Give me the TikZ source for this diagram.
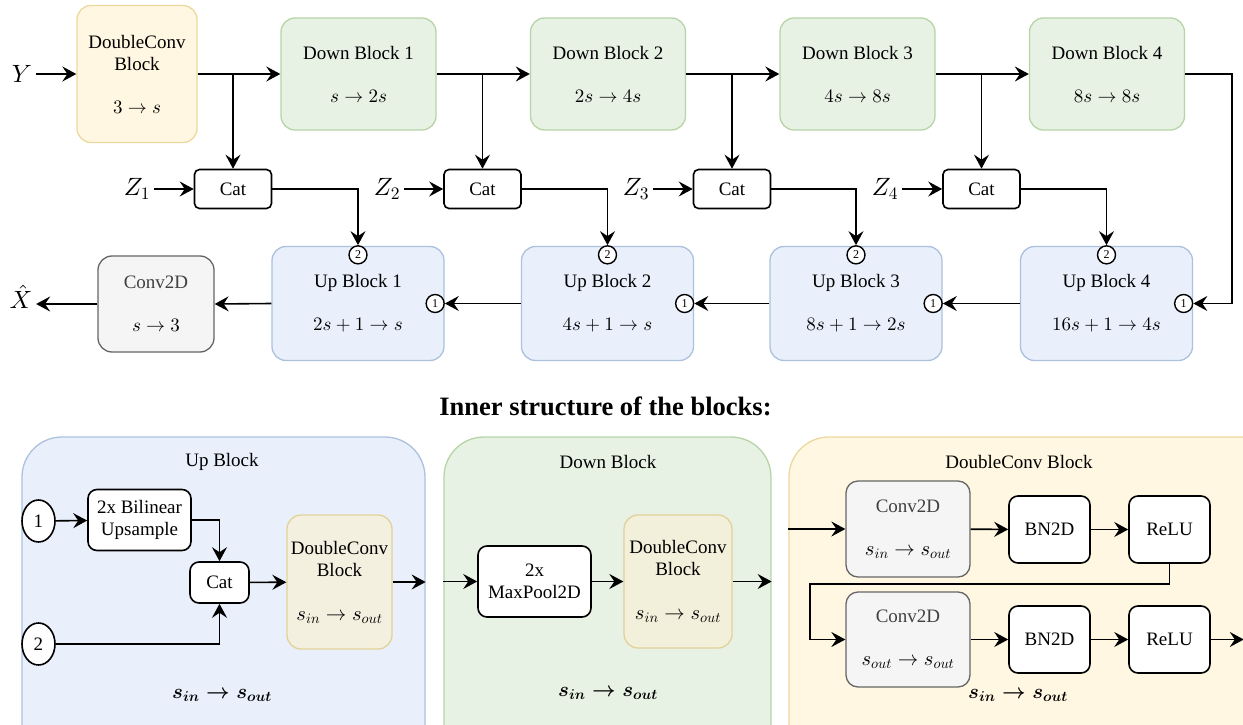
\documentclass[tikz,border=0pt]{standalone}
\usepackage[no-math]{fontspec}
\setmainfont{LiberationSerif}[Extension=.ttf,UprightFont=*-Regular,BoldFont=*-Bold,ItalicFont=*-Italic,BoldItalicFont=*-BoldItalic]
\usepackage{amsmath}
\usetikzlibrary{arrows.meta,shapes.geometric}

% scalable math fonts
\DeclareFontShape{OT1}{cmr}{m}{n}{<->cmr10}{}
\DeclareFontShape{OT1}{cmr}{bx}{n}{<->cmbx10}{}
\DeclareFontShape{OML}{cmm}{m}{it}{<->cmmi10}{}
\DeclareFontShape{OML}{cmm}{b}{it}{<->cmmib10}{}
\DeclareFontShape{OMS}{cmsy}{m}{n}{<->cmsy10}{}
\DeclareFontShape{OMS}{cmsy}{b}{n}{<->cmbsy10}{}
\DeclareFontShape{OMX}{cmex}{m}{n}{<->cmex10}{}

\definecolor{yfill}{RGB}{255,247,226}
\definecolor{yline}{RGB}{236,216,158}
\definecolor{gfill}{RGB}{231,241,228}
\definecolor{gline}{RGB}{182,213,167}
\definecolor{bfill}{RGB}{233,240,251}
\definecolor{bline}{RGB}{172,193,222}
\definecolor{kfill}{RGB}{245,245,245}
\definecolor{kline}{RGB}{102,102,102}
\definecolor{tfill}{RGB}{244,240,224}
\definecolor{tline}{RGB}{226,210,152}
\definecolor{sfill}{RGB}{242,240,218}

\newcommand{\sizes}[1]{{\fontsize{20.5}{22}\selectfont$#1$}}

\begin{document}
\begin{tikzpicture}[x=1pt,y=-1pt,
    every node/.style={font=\fontsize{19}{22}\selectfont},
    arr/.style={line width=1.6pt,arrows={-Stealth[length=14pt,width=15pt,inset=5pt]}},
    blk/.style={draw,rounded corners=14pt,line width=1.3pt,align=center,inner sep=0pt},
    dcblk/.style={blk,fill=yfill,draw=yline},
    dnblk/.style={blk,fill=gfill,draw=gline,minimum width=155,minimum height=112},
    upblk/.style={blk,fill=bfill,draw=bline,minimum width=172,minimum height=114},
    cvblk/.style={blk,fill=kfill,draw=kline,text=black!75},
    opbox/.style={draw,fill=white,rounded corners=9pt,line width=1.6pt,align=center,inner sep=0pt},
    catbox/.style={opbox,rounded corners=5pt,minimum width=77,minimum height=39},
    port/.style={draw,fill=white,circle,line width=1.4pt,inner sep=0pt,minimum size=18,font=\fontsize{12}{12}\selectfont},
    bigport/.style={draw,fill=white,ellipse,line width=1.6pt,inner sep=0pt,minimum width=33,minimum height=42},
    panel/.style={draw,rounded corners=40pt,line width=1.3pt},
    lbl/.style={font=\fontsize{25}{26}\selectfont,inner sep=0.36em}]

    \useasboundingbox (0,0) rectangle (1243,725);
    \clip (0,0) rectangle (1243,725);

    % encoder
    \node[lbl] (y) at (22,74) {$Y$};
    \node[dcblk,minimum width=120,minimum height=137] (dc) at (137,74) {DoubleConv\\Block\\[21pt]$3\to s$};
    \node[dnblk] (db1) at (358.5,74) {Down Block 1\\[21pt]$s\to 2s$};
    \node[dnblk] (db2) at (608,74) {Down Block 2\\[21pt]$2s\to 4s$};
    \node[dnblk] (db3) at (857.5,74) {Down Block 3\\[21pt]$4s\to 8s$};
    \node[dnblk] (db4) at (1107,74) {Down Block 4\\[21pt]$8s\to 8s$};

    % skip connections
    \node[catbox] (cat1) at (233,189) {Cat};
    \node[catbox] (cat2) at (482.5,189) {Cat};
    \node[catbox] (cat3) at (732,189) {Cat};
    \node[catbox] (cat4) at (981.5,189) {Cat};
    \node[lbl] (z1) at (137,189) {$Z_1$};
    \node[lbl] (z2) at (387,189) {$Z_2$};
    \node[lbl] (z3) at (636,189) {$Z_3$};
    \node[lbl] (z4) at (885,189) {$Z_4$};

    % decoder
    \node[upblk] (ub1) at (358,303.5) {Up Block 1\\[21pt]$2s+1\to s$};
    \node[upblk] (ub2) at (607.5,303.5) {Up Block 2\\[21pt]$4s+1\to s$};
    \node[upblk] (ub3) at (856,303.5) {Up Block 3\\[21pt]$8s+1\to 2s$};
    \node[upblk] (ub4) at (1106.5,303.5) {Up Block 4\\[21pt]$16s+1\to 4s$};
    \node[port] (ub1a) at ([xshift=-9.5pt]ub1.east) {1};
    \node[port] (ub2a) at ([xshift=-9.5pt]ub2.east) {1};
    \node[port] (ub3a) at ([xshift=-9.5pt]ub3.east) {1};
    \node[port] (ub4a) at ([xshift=-9.5pt]ub4.east) {1};
    \node[port] (ub1b) at ([yshift=-9pt]ub1.north) {2};
    \node[port] (ub2b) at ([yshift=-9pt]ub2.north) {2};
    \node[port] (ub3b) at ([yshift=-9pt]ub3.north) {2};
    \node[port] (ub4b) at ([yshift=-9pt]ub4.north) {2};
    \node[cvblk,minimum width=116,minimum height=96] (conv) at (156,304) {Conv2D\\[21pt]\textcolor{black}{$s\to 3$}};
    \node[lbl] (xhat) at (21,297) {$\hat{X}$};

    \draw[arr] (y.east) -- (dc.west);
    \draw[arr] (dc.east) -- (db1.west);
    \draw[arr] (db1.east) -- (db2.west);
    \draw[arr] (db2.east) -- (db3.west);
    \draw[arr] (db3.east) -- (db4.west);
    \draw[arr] (cat1 |- dc.east) -- (cat1.north);
    \draw[arr] (cat2 |- db1.east) -- (cat2.north);
    \draw[arr] (cat3 |- db2.east) -- (cat3.north);
    \draw[arr] (cat4 |- db3.east) -- (cat4.north);
    \draw[arr] (z1) -- (cat1);
    \draw[arr] (z2) -- (cat2);
    \draw[arr] (z3) -- (cat3);
    \draw[arr] (z4) -- (cat4);
    \draw[arr] (cat1.east) -| (ub1b.north);
    \draw[arr] (cat2.east) -| (ub2b.north);
    \draw[arr] (cat3.east) -| (ub3b.north);
    \draw[arr] (cat4.east) -| (ub4b.north);
    \draw[arr] (db4.east) -- ++(47,0) |- (ub4a.east);
    \draw[arr] (ub4.west) -- (ub3a.east);
    \draw[arr] (ub3.west) -- (ub2a.east);
    \draw[arr] (ub2.west) -- (ub1a.east);
    \draw[arr] (ub1.west) -- (conv.east);
    \draw[arr] (conv.west) -- (conv.west -| xhat.east);

    \node[font=\fontsize{26.5}{28}\selectfont\bfseries] (title) at (605.5,406) {Inner structure of the blocks:};

    % inner structure: up block
    \node[panel,fill=bfill,draw=bline,minimum width=403,minimum height=333] (upp) at (223.5,603.5) {};
    \node (uptitle) at (222,462) {Up Block};
    \node[bigport] (in1) at (38.5,521) {1};
    \node[bigport] (in2) at (38.5,644) {2};
    \node[opbox,minimum width=103,minimum height=61] (ups) at (139.5,520) {2x Bilinear\\Upsample};
    \node[opbox,minimum width=59,minimum height=41] (catu) at (219.5,582.5) {Cat};
    \node[blk,fill=tfill,draw=tline,minimum width=105,minimum height=134] (dcu) at (339.5,582) {DoubleConv\\Block\\[22pt]\sizes{s_{in}\to s_{out}}};
    \node (upsz) at (222,695) {\sizes{\boldsymbol{s_{in}\to s_{out}}}};
    \draw[arr] (in1) -- (ups);
    \draw[arr] (ups.east) -| (catu.north);
    \draw[arr] (in2.east) -| (catu.south);
    \draw[arr] (catu) -- (dcu);
    \draw[arr] (dcu.east) -- (dcu.east -| upp.east);

    % inner structure: down block
    \node[panel,fill=gfill,draw=gline,minimum width=327,minimum height=333] (dnp) at (607.5,603.5) {};
    \node (dntitle) at (608,462) {Down Block};
    \node[opbox,minimum width=113,minimum height=71] (mp) at (534.5,581.5) {2x\\MaxPool2D};
    \node[blk,fill=sfill,draw=tline,minimum width=108,minimum height=133] (dcd) at (678,581.5) {DoubleConv\\Block\\[22pt]\sizes{s_{in}\to s_{out}}};
    \node (dnsz) at (608,693) {\sizes{\boldsymbol{s_{in}\to s_{out}}}};
    \draw[arr] (dnp.west |- mp) -- (mp);
    \draw[arr] (mp) -- (dcd);
    \draw[arr] (dcd.east) -- (dcd.east -| dnp.east);

    % inner structure: doubleconv block
    \node[panel,fill=yfill,draw=yline,minimum width=520,minimum height=333] (dcp) at (1049,603.5) {};
    \node (dctitle) at (1019,462) {DoubleConv Block};
    \node[cvblk,rounded corners=12pt,minimum width=124,minimum height=96] (cv1) at (908,529) {Conv2D\\[21pt]\textcolor{black}{\sizes{s_{in}\to s_{out}}}};
    \node[opbox,minimum width=81,minimum height=67] (bn1) at (1049.5,529.5) {BN2D};
    \node[opbox,minimum width=81,minimum height=67] (re1) at (1169.5,529.5) {ReLU};
    \node[cvblk,rounded corners=12pt,minimum width=124,minimum height=95] (cv2) at (908,639.5) {Conv2D\\[21pt]\textcolor{black}{\sizes{s_{out}\to s_{out}}}};
    \node[opbox,minimum width=81,minimum height=67] (bn2) at (1049.5,639.5) {BN2D};
    \node[opbox,minimum width=81,minimum height=67] (re2) at (1169.5,639.5) {ReLU};
    \node (dcsz) at (1018,695) {\sizes{\boldsymbol{s_{in}\to s_{out}}}};
    \coordinate (turn) at (810,584);
    \draw[arr] (dcp.west |- cv1) -- (cv1);
    \draw[arr] (cv1) -- (bn1);
    \draw[arr] (bn1) -- (re1);
    \draw[arr] (re1.south) |- (turn) |- (cv2.west);
    \draw[arr] (cv2) -- (bn2);
    \draw[arr] (bn2) -- (re2);
    \draw[arr] (re2.east) -- ++(33,0);

\end{tikzpicture}
\end{document}
